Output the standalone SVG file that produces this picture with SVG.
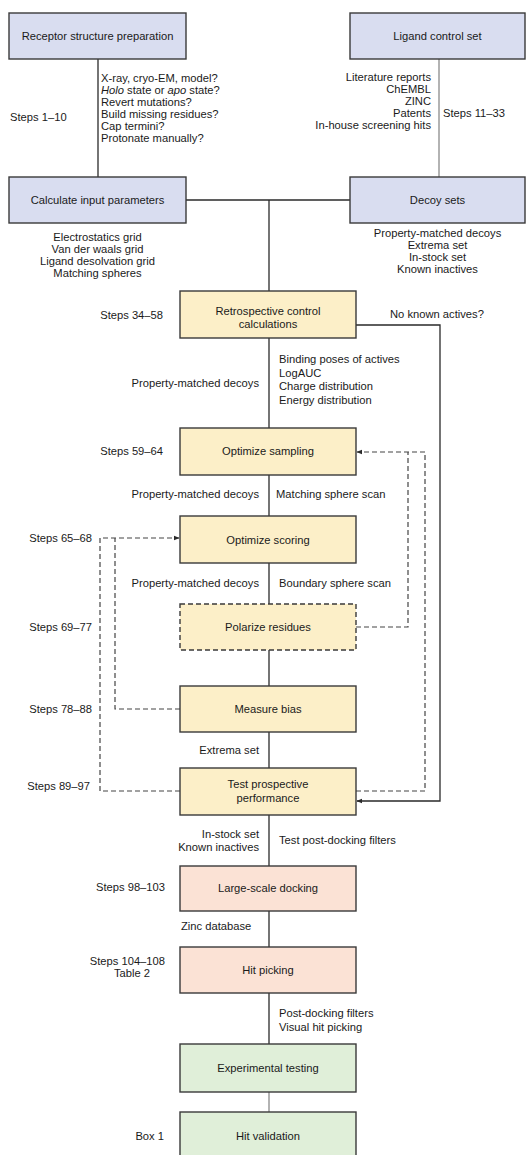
<svg xmlns="http://www.w3.org/2000/svg" width="526" height="1155" viewBox="0 0 526 1155">
<style>
.bx{stroke:#3a3a3a;stroke-width:1.4}
.blue{fill:#d9ddf0}
.yel{fill:#fcefc8}
.pink{fill:#fbe2d5}
.grn{fill:#e0efd9}
.dash{stroke-dasharray:5 3}
.t{font-family:"Liberation Sans",Arial,sans-serif;font-size:11.2px;fill:#1a1a1a;text-anchor:middle}
.l{font-family:"Liberation Sans",Arial,sans-serif;font-size:11.2px;fill:#1a1a1a}
.m{text-anchor:middle}
.e{text-anchor:end}
.c{fill:none;stroke:#2a2a2a;stroke-width:1.3}
.g{stroke:#8a8a8a}
.cd{fill:none;stroke:#444;stroke-width:1.2;stroke-dasharray:5 3}
</style>
<defs>
<marker id="ah" viewBox="0 0 10 10" refX="9" refY="5" markerWidth="6" markerHeight="6" orient="auto" markerUnits="userSpaceOnUse">
<path d="M0,1 L10,5 L0,9 z" fill="#2a2a2a"/>
</marker>
</defs>
<g id="connectors">
<path class="c" d="M98,59 V177"/>
<path class="c g" d="M439,59 V177"/>
<path class="c" d="M186,200 H350"/>
<path class="c" d="M269,200 V291"/>
<path class="c" d="M269,338 V428"/>
<path class="c" d="M269,475 V516"/>
<path class="c" d="M269,563 V604"/>
<path class="c" d="M269,650 V686"/>
<path class="c" d="M269,732 V768"/>
<path class="c" d="M269,815 V866"/>
<path class="c" d="M269,911 V947"/>
<path class="c" d="M269,993 V1044"/>
<path class="c g" d="M269,1092 V1112"/>
<path class="c" d="M356,325 H440 V801 H357" marker-end="url(#ah)"/>
<path class="cd" d="M356,791 H425 V452 H357" marker-end="url(#ah)"/>
<path class="cd" d="M356,627 H408 V452"/>
<path class="cd" d="M180,709 H115 V538"/>
<path class="cd" d="M180,791 H100 V538 H179" marker-end="url(#ah)"/>
</g>
<g id="receptor"><rect class="bx blue" x="9" y="13" width="177" height="46"/><text class="t" x="97.5" y="40">Receptor structure preparation</text></g>
<g id="ligand"><rect class="bx blue" x="350" y="13" width="175" height="46"/><text class="t" x="437.5" y="40">Ligand control set</text></g>
<g id="calc"><rect class="bx blue" x="9" y="177" width="177" height="46"/><text class="t" x="97.5" y="204">Calculate input parameters</text></g>
<g id="decoy"><rect class="bx blue" x="350" y="177" width="175" height="46"/><text class="t" x="437.5" y="204">Decoy sets</text></g>
<g id="retro"><rect class="bx yel" x="180" y="291" width="176" height="47"/><text class="t" x="268" y="315">Retrospective control</text><text class="t" x="268" y="328">calculations</text></g>
<g id="sampling"><rect class="bx yel" x="180" y="428" width="176" height="47"/><text class="t" x="268" y="455">Optimize sampling</text></g>
<g id="scoring"><rect class="bx yel" x="180" y="516" width="176" height="47"/><text class="t" x="268" y="544">Optimize scoring</text></g>
<g id="polarize"><rect class="bx yel dash" x="180" y="604" width="176" height="46"/><text class="t" x="268" y="631">Polarize residues</text></g>
<g id="measure"><rect class="bx yel" x="180" y="686" width="176" height="46"/><text class="t" x="268" y="713">Measure bias</text></g>
<g id="test"><rect class="bx yel" x="180" y="768" width="176" height="47"/><text class="t" x="268" y="788">Test prospective</text><text class="t" x="268" y="802">performance</text></g>
<g id="large"><rect class="bx pink" x="180" y="866" width="176" height="45"/><text class="t" x="268" y="892">Large-scale docking</text></g>
<g id="hitpick"><rect class="bx pink" x="180" y="947" width="176" height="46"/><text class="t" x="268" y="974">Hit picking</text></g>
<g id="exp"><rect class="bx grn" x="180" y="1044" width="176" height="48"/><text class="t" x="268" y="1072">Experimental testing</text></g>
<g id="hitval"><rect class="bx grn" x="180" y="1112" width="176" height="50"/><text class="t" x="268" y="1140">Hit validation</text></g>
<g id="labels">
<text class="l" x="10" y="121">Steps 1–10</text>
<text class="l" x="101" y="82">X-ray, cryo-EM, model?</text>
<text class="l" x="101" y="94"><tspan font-style="italic">Holo</tspan> state or <tspan font-style="italic">apo</tspan> state?</text>
<text class="l" x="101" y="106">Revert mutations?</text>
<text class="l" x="101" y="118">Build missing residues?</text>
<text class="l" x="101" y="130">Cap termini?</text>
<text class="l" x="101" y="142">Protonate manually?</text>
<text class="l m" x="97.5" y="241">Electrostatics grid</text>
<text class="l m" x="97.5" y="253">Van der waals grid</text>
<text class="l m" x="97.5" y="265">Ligand desolvation grid</text>
<text class="l m" x="97.5" y="277">Matching spheres</text>
<text class="l e" x="431" y="81">Literature reports</text>
<text class="l e" x="431" y="93">ChEMBL</text>
<text class="l e" x="431" y="105">ZINC</text>
<text class="l e" x="431" y="117">Patents</text>
<text class="l e" x="431" y="129">In-house screening hits</text>
<text class="l" x="443" y="117">Steps 11–33</text>
<text class="l m" x="437.5" y="237">Property-matched decoys</text>
<text class="l m" x="437.5" y="249">Extrema set</text>
<text class="l m" x="437.5" y="261">In-stock set</text>
<text class="l m" x="437.5" y="273">Known inactives</text>
<text class="l e" x="163" y="319">Steps 34–58</text>
<text class="l" x="390" y="318">No known actives?</text>
<text class="l" x="279" y="363">Binding poses of actives</text>
<text class="l" x="279" y="376.5">LogAUC</text>
<text class="l" x="279" y="390">Charge distribution</text>
<text class="l" x="279" y="403.5">Energy distribution</text>
<text class="l e" x="259" y="387">Property-matched decoys</text>
<text class="l e" x="163" y="455">Steps 59–64</text>
<text class="l e" x="259" y="498">Property-matched decoys</text>
<text class="l" x="276" y="498">Matching sphere scan</text>
<text class="l e" x="92" y="542">Steps 65–68</text>
<text class="l e" x="259" y="587">Property-matched decoys</text>
<text class="l" x="279" y="587">Boundary sphere scan</text>
<text class="l e" x="92" y="631">Steps 69–77</text>
<text class="l e" x="92" y="713">Steps 78–88</text>
<text class="l e" x="259" y="754">Extrema set</text>
<text class="l e" x="90" y="790">Steps 89–97</text>
<text class="l e" x="259" y="838">In-stock set</text>
<text class="l e" x="259" y="851">Known inactives</text>
<text class="l" x="279" y="844">Test post-docking filters</text>
<text class="l e" x="165" y="891">Steps 98–103</text>
<text class="l" x="181" y="930">Zinc database</text>
<text class="l e" x="165" y="965">Steps 104–108</text>
<text class="l" x="114" y="977">Table 2</text>
<text class="l" x="279" y="1017">Post-docking filters</text>
<text class="l" x="279" y="1031">Visual hit picking</text>
<text class="l e" x="164" y="1140">Box 1</text>
</g>
</svg>
